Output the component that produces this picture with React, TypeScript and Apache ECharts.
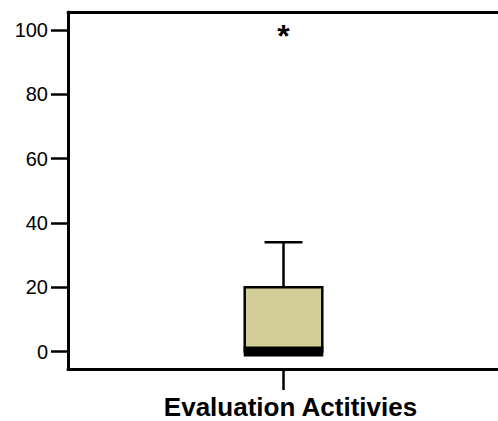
import React, { useEffect, useRef } from "react";
import * as echarts from "echarts";

const categories = ["Evaluation Actitivies"];
// [min, Q1, median, Q3, max]
const boxStats = [[0, 0, 0, 20, 34]];
const outliers = [[0, 100]];
const yTicks = [0, 20, 40, 60, 80, 100];

const FONT = "'Liberation Sans', Arial, Helvetica, sans-serif";

export default function App() {
  const ref = useRef<HTMLDivElement>(null);
  useEffect(() => {
    if (!ref.current) return;
    const chart = echarts.init(ref.current, null, { renderer: "svg" });
    const boxData = boxStats.map((s, i) => [i, ...s]);
    chart.setOption({
      animation: false,
      backgroundColor: "#ffffff",
      grid: {
        left: 68,
        top: 12,
        right: 21,
        bottom: 52,
        show: false,
        containLabel: false,
        outerBoundsMode: "none",
      },
      xAxis: [
        {
          type: "category",
          data: categories,
          boundaryGap: true,
          axisLine: { show: true, onZero: false, lineStyle: { color: "#000", width: 3 } },
          axisTick: { show: true, alignWithLabel: true, length: 21, lineStyle: { color: "#000", width: 2.5 } },
          axisLabel: {
            color: "#000",
            fontFamily: FONT,
            fontWeight: "bold",
            fontSize: 26,
            margin: 25,
            padding: [0, 0, 0, 14],
          },
          splitLine: { show: false },
        },
        {
          type: "category",
          data: categories,
          position: "top",
          axisLine: { show: true, onZero: false, lineStyle: { color: "#000", width: 3 } },
          axisTick: { show: false },
          axisLabel: { show: false },
          splitLine: { show: false },
        },
      ],
      yAxis: {
        type: "value",
        min: -5.44,
        max: 105.6,
        axisLine: { show: true, lineStyle: { color: "#000", width: 3 } },
        axisTick: {
          show: true,
          length: 17,
          customValues: yTicks,
          lineStyle: { color: "#000", width: 2.5 },
        },
        axisLabel: {
          color: "#000",
          fontFamily: FONT,
          fontSize: 20,
          margin: 20,
          customValues: yTicks,
        },
        splitLine: { show: false },
      },
      series: [
        {
          type: "custom",
          data: boxData,
          encode: { x: 0, y: [1, 2, 3, 4, 5] },
          renderItem: (params: any, api: any) => {
            const x = api.value(0);
            const pMin = api.coord([x, api.value(1)]);
            const pQ1 = api.coord([x, api.value(2)]);
            const pMed = api.coord([x, api.value(3)]);
            const pQ3 = api.coord([x, api.value(4)]);
            const pMax = api.coord([x, api.value(5)]);
            const band = api.size([1, 0])[0];
            const boxW = band * 0.18;
            const capW = band * 0.088;
            const cx = pMed[0];
            const lineStyle = { stroke: "#000", lineWidth: 2.5, fill: null };
            return {
              type: "group",
              children: [
                {
                  type: "line",
                  shape: { x1: cx, y1: pQ3[1], x2: cx, y2: pMax[1] },
                  style: lineStyle,
                },
                {
                  type: "line",
                  shape: { x1: cx - capW / 2, y1: pMax[1], x2: cx + capW / 2, y2: pMax[1] },
                  style: lineStyle,
                },
                {
                  type: "line",
                  shape: { x1: cx, y1: pQ1[1], x2: cx, y2: pMin[1] },
                  style: lineStyle,
                },
                {
                  type: "rect",
                  shape: { x: cx - boxW / 2, y: pQ3[1], width: boxW, height: pQ1[1] - pQ3[1] },
                  style: { fill: "#d3ce98", stroke: "#000", lineWidth: 2.5 },
                },
                {
                  type: "rect",
                  shape: { x: cx - boxW / 2 - 1, y: pMed[1] - 5, width: boxW + 2, height: 10 },
                  style: { fill: "#000", stroke: null },
                },
              ],
            };
          },
          z: 2,
        },
        {
          type: "custom",
          data: outliers,
          encode: { x: 0, y: 1 },
          renderItem: (params: any, api: any) => {
            const p = api.coord([api.value(0), api.value(1)]);
            return {
              type: "text",
              x: p[0],
              y: p[1] + 6,
              style: {
                text: "*",
                fill: "#000",
                font: `bold 32px ${FONT}`,
                textAlign: "center",
                textVerticalAlign: "middle",
              },
            };
          },
          z: 3,
        },
      ],
    });
    return () => chart.dispose();
  }, []);
  return (
    <div
      style={{
        position: "fixed",
        left: 0,
        top: 0,
        width: 498,
        height: 421,
        overflow: "hidden",
        background: "#fff",
      }}
    >
      <div ref={ref} style={{ width: 520, height: 421 }} />
    </div>
  );
}
